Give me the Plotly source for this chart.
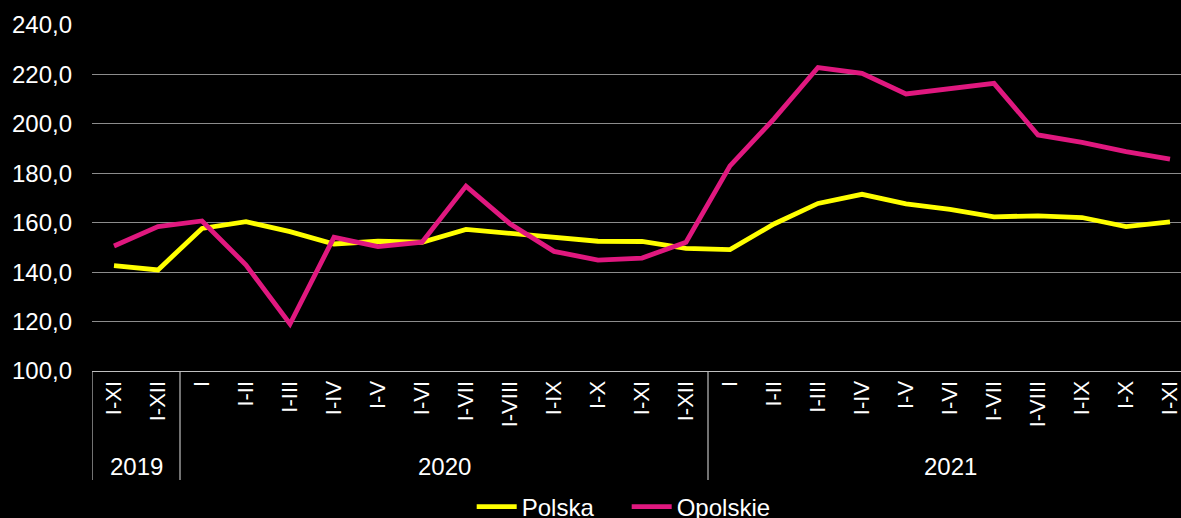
import plotly.graph_objects as go

periods = ["I-XI", "I-XII",
           "I", "I-II", "I-III", "I-IV", "I-V", "I-VI", "I-VII", "I-VIII", "I-IX", "I-X", "I-XI", "I-XII",
           "I", "I-II", "I-III", "I-IV", "I-V", "I-VI", "I-VII", "I-VIII", "I-IX", "I-X", "I-XI"]
years = ["2019", "2020", "2021"]
year_counts = [2, 12, 11]

polska = [142.6, 140.9,
          157.7, 160.4, 156.4, 151.4, 152.5, 152.1, 157.3, 155.8, 154.4, 152.5, 152.4, 149.6,
          149.1, 159.5, 167.8, 171.5, 167.6, 165.4, 162.4, 162.8, 162.1, 158.4, 160.3]
opolskie = [150.6, 158.4,
            160.7, 142.9, 119.0, 154.1, 150.3, 152.1, 174.8, 159.6, 148.4, 144.9, 145.7, 152.1,
            183.0, 202.0, 222.8, 220.4, 212.1, 214.4, 216.4, 195.5, 192.5, 188.8, 185.7]

x = list(range(len(periods)))
FONT = "Liberation Sans, Arial, sans-serif"

fig = go.Figure()
fig.add_trace(go.Scatter(x=x, y=polska, mode="lines", name="Polska",
                         line=dict(color="#FFFF00", width=4.8)))
fig.add_trace(go.Scatter(x=x, y=opolskie, mode="lines", name="Opolskie",
                         line=dict(color="#E0187F", width=4.8)))

# year group labels and dividers
start = -0.5
bounds = [start]
for yr, n in zip(years, year_counts):
    end = start + n
    fig.add_annotation(x=(start + end) / 2, y=-0.275, xref="x", yref="paper",
                       text=yr, showarrow=False, yanchor="middle",
                       font=dict(size=24, color="white", family=FONT))
    start = end
    bounds.append(end)
for b in bounds:
    fig.add_shape(type="line", xref="x", yref="paper", x0=b, x1=b, y0=-0.315, y1=0,
                  line=dict(color="#BFBFBF", width=1.2))

fig.update_layout(
    width=1181, height=518,
    paper_bgcolor="black", plot_bgcolor="black",
    margin=dict(l=92, r=0, t=25, b=147, autoexpand=False),
    separators=", ",
    font=dict(family=FONT, color="white", size=24),
    showlegend=True,
    legend=dict(orientation="h", x=0.491, xanchor="center", y=-0.458, yanchor="bottom",
                font=dict(size=24, color="white", family=FONT),
                entrywidth=100, entrywidthmode="pixels",
                bgcolor="rgba(0,0,0,0)", itemwidth=40, tracegroupgap=0),
    xaxis=dict(range=[-0.5, 24.25], tickmode="array", tickvals=x, ticktext=periods,
               tickangle=-90, showgrid=False, zeroline=False, automargin=False,
               ticklabeloverflow="allow",
               showline=True, linecolor="#BFBFBF", linewidth=1.2,
               tickfont=dict(size=22, color="white", family=FONT), ticks=""),
    yaxis=dict(range=[100, 240], dtick=20, tick0=100, tickformat=".1f",
               showgrid=True, gridcolor="#8C8C8C", gridwidth=1.2, zeroline=False,
               showline=False, ticks="", ticklabelstandoff=19, automargin=False,
               tickfont=dict(size=24, color="white", family=FONT)),
)

fig.write_html("out.html", config={"displayModeBar": False},
               post_script="document.body.style.margin='0';document.body.style.background='black';")
